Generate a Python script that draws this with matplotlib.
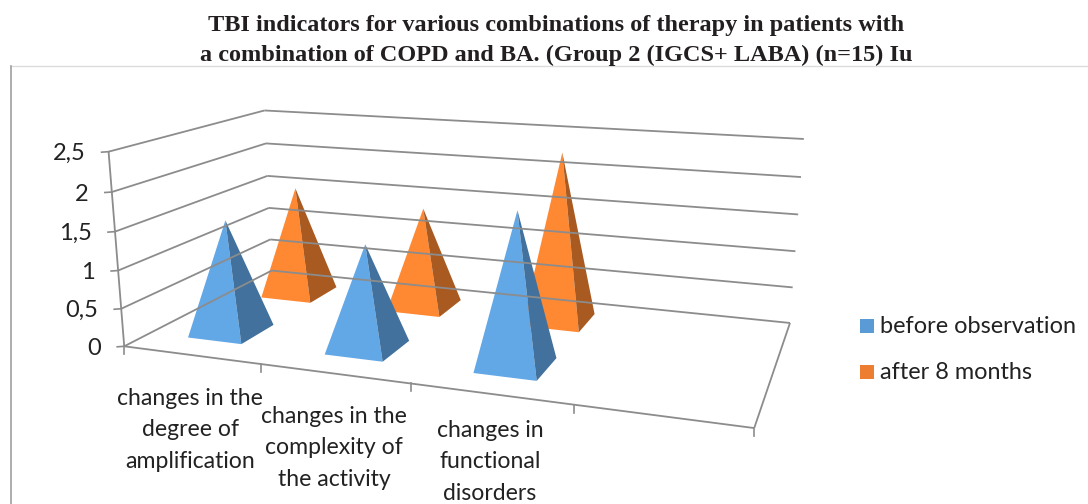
import numpy as np
import matplotlib
matplotlib.use('Agg')
import matplotlib.pyplot as plt

title_lines = ['TBI indicators for various combinations of therapy in patients with',
               'a combination of COPD and BA. (Group 2 (IGCS+ LABA) (n=15) Iu']
categories = ['changes in the\ndegree of\namplification',
              'changes in the\ncomplexity of\nthe activity',
              'changes in\nfunctional\ndisorders']
before_obs = [1.5, 1.35, 1.93]
after_8m = [1.55, 1.4, 2.3]
z_ticks = [0, 0.5, 1, 1.5, 2, 2.5]
z_labels = ['0', '0,5', '1', '1,5', '2', '2,5']

# camera fit: world (slot, depth, value) -> picture pixel
world_pts = [(0, 0, 0), (0, 0, 2.5), (0, 1, 2.5), (0, 1, 0), (4, 1, 0), (4, 1, 2.5), (4, 0, 0)]
pixel_pts = [(124, 347), (109, 151), (264, 111), (272, 270), (790, 323), (804, 139), (754, 428)]

rows = []
rhs = []
for (a, b, c), (u, v) in zip(world_pts, pixel_pts):
    rows.append([a, b, c, 1, 0, 0, 0, 0, -u * a, -u * b, -u * c])
    rows.append([0, 0, 0, 0, a, b, c, 1, -v * a, -v * b, -v * c])
    rhs += [u, v]
P = np.linalg.lstsq(np.array(rows, dtype=float), np.array(rhs, dtype=float), rcond=None)[0]
P = np.append(P, 1.0).reshape(3, 4)


def proj(a, b, c):
    q = P @ np.array([a, b, c, 1.0])
    return q[0] / q[2], q[1] / q[2]


def line3(ax, p0, p1, **kw):
    x0, y0 = proj(*p0)
    x1, y1 = proj(*p1)
    ax.plot([x0, x1], [y0, y1], color='#8c8c8c', lw=1.3, solid_capstyle='butt', **kw)


def pyramid(ax, slot, depth, value, front_col, side_col):
    hx = 0.2
    hy = 0.11
    cx = slot + 0.49
    top = proj(cx, depth, value)
    fl = proj(cx - hx, depth - hy, 0)
    fr = proj(cx + hx, depth - hy, 0)
    br = proj(cx + hx, depth + hy, 0)
    ax.fill(*zip(fl, fr, top), color=front_col, lw=0)
    ax.fill(*zip(fr, br, top), color=side_col, lw=0)


fig = plt.figure(figsize=(10.88, 5.04), dpi=100)
ax = fig.add_axes([0, 0, 1, 1])
ax.set_xlim(0, 1088)
ax.set_ylim(504, 0)
ax.axis('off')

# frame of the picture
ax.plot([11, 1088], [66, 66], color='#dcdcdc', lw=1)
ax.plot([11, 11], [66, 504], color='#a0a0a0', lw=1.2)

for line, y in zip(title_lines, [26, 55]):
    ax.text(556, y, line, ha='center', va='center', fontsize=17.5, fontweight='bold',
            family='Liberation Serif', color='#231f20')

for z, lab in zip(z_ticks, z_labels):
    line3(ax, (0, 0, z), (0, 1, z))
    line3(ax, (0, 1, z), (4, 1, z))
    x, y = proj(0, 0, z)
    ax.plot([x - 7, x], [y + 0.5, y], color='#8c8c8c', lw=1.2)
    ax.text(x - 23, y + 2, lab, ha='right', va='center', fontsize=17, family='Lato', color='#222222')

line3(ax, (0, 0, 0), (0, 0, 2.5))
line3(ax, (0, 0, 0), (4, 0, 0))
line3(ax, (4, 0, 0), (4, 1, 0))
for i in range(5):
    x, y = proj(i, 0, 0)
    ax.plot([x, x], [y, y + 8], color='#8c8c8c', lw=1.2)

for i in range(3):
    pyramid(ax, i, 0.76, after_8m[i], '#ff8833', '#a85a20')
for i in range(3):
    pyramid(ax, i, 0.26, before_obs[i], '#62a7e6', '#41719c')

label_x = [190, 334, 490]
label_y = [430, 448, 462]
for name, x, y in zip(categories, label_x, label_y):
    ax.text(x, y, name, ha='center', va='center', fontsize=16.6, family='Lato',
            color='#222222', linespacing=1.64)

ax.scatter([866.5], [325.5], marker='s', s=95, color='#5b9bd5', linewidths=0)
ax.scatter([866.5], [371.5], marker='s', s=95, color='#ed7d31', linewidths=0)
ax.text(880, 326.5, 'before observation', ha='left', va='center', fontsize=16.9, family='Lato', color='#222222')
ax.text(880, 372.5, 'after 8 months', ha='left', va='center', fontsize=16.9, family='Lato', color='#222222')

fig.savefig('out.png', dpi=100)
